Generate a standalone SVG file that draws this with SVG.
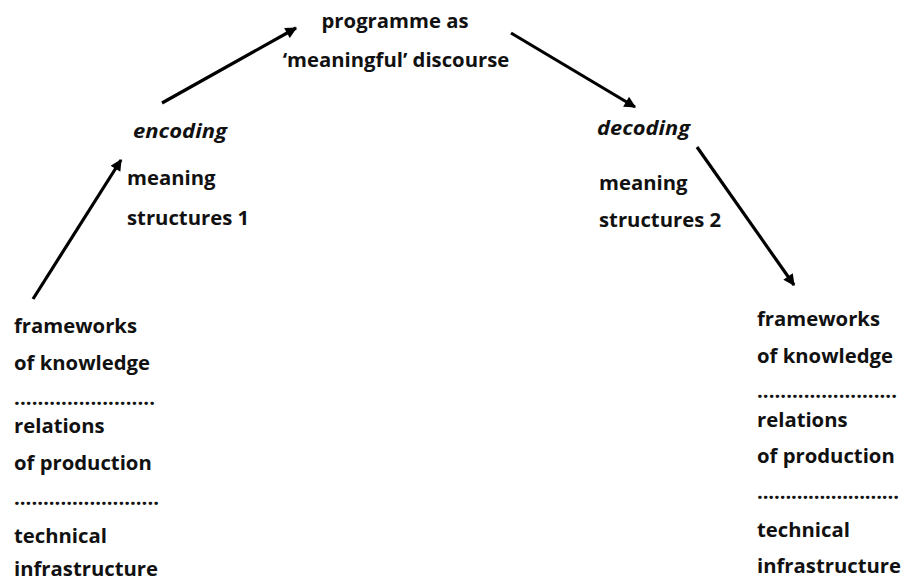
<svg xmlns="http://www.w3.org/2000/svg" width="902" height="581" viewBox="0 0 902 581">
  <style>
    text { font-family: "Open Sans", "Noto Sans", "Liberation Sans", sans-serif; font-weight: 700; font-size: 20.3px; fill: #111; }
    .it { font-style: italic; }
    .conn { stroke: #000; stroke-width: 3.2; fill: none; marker-end: url(#arrow); }
  </style>
  <defs>
    <marker id="arrow" viewBox="0 0 10 10" refX="9" refY="5" markerWidth="4" markerHeight="3.6" orient="auto" markerUnits="strokeWidth">
      <path d="M0,0 L10,5 L0,10 Z" fill="#000"/>
    </marker>
  </defs>
  <rect width="902" height="581" fill="#fff"/>

  <g id="connectors">
    <line class="conn" x1="33" y1="299" x2="121" y2="160"/>
    <line class="conn" x1="162" y1="103" x2="296" y2="28"/>
    <line class="conn" x1="511" y1="33" x2="635" y2="107"/>
    <line class="conn" x1="697" y1="147" x2="794" y2="285"/>
  </g>

  <g id="programme">
    <text x="395" y="28" text-anchor="middle">programme as</text>
    <text x="396" y="67" text-anchor="middle">‘meaningful’ discourse</text>
  </g>

  <g id="encoding">
    <text class="it" x="133" y="138" textLength="94" lengthAdjust="spacingAndGlyphs">encoding</text>
    <text x="127" y="185">meaning</text>
    <text x="127" y="225">structures 1</text>
  </g>

  <g id="decoding">
    <text class="it" x="597" y="135" textLength="93" lengthAdjust="spacingAndGlyphs">decoding</text>
    <text x="599" y="190">meaning</text>
    <text x="599" y="227">structures 2</text>
  </g>

  <g id="production-structures">
    <text x="14" y="333">frameworks</text>
    <text x="14" y="370">of knowledge</text>
    <text x="14" y="405" textLength="141" lengthAdjust="spacing">........................</text>
    <text x="14" y="433">relations</text>
    <text x="14" y="470">of production</text>
    <text x="14" y="505" textLength="145" lengthAdjust="spacing">.........................</text>
    <text x="14" y="543">technical</text>
    <text x="14" y="576">infrastructure</text>
  </g>

  <g id="reception-structures">
    <text x="757" y="326">frameworks</text>
    <text x="757" y="363">of knowledge</text>
    <text x="757" y="398" textLength="140" lengthAdjust="spacing">........................</text>
    <text x="757" y="427">relations</text>
    <text x="757" y="463">of production</text>
    <text x="757" y="499" textLength="142" lengthAdjust="spacing">.........................</text>
    <text x="757" y="537">technical</text>
    <text x="757" y="573">infrastructure</text>
  </g>
</svg>
